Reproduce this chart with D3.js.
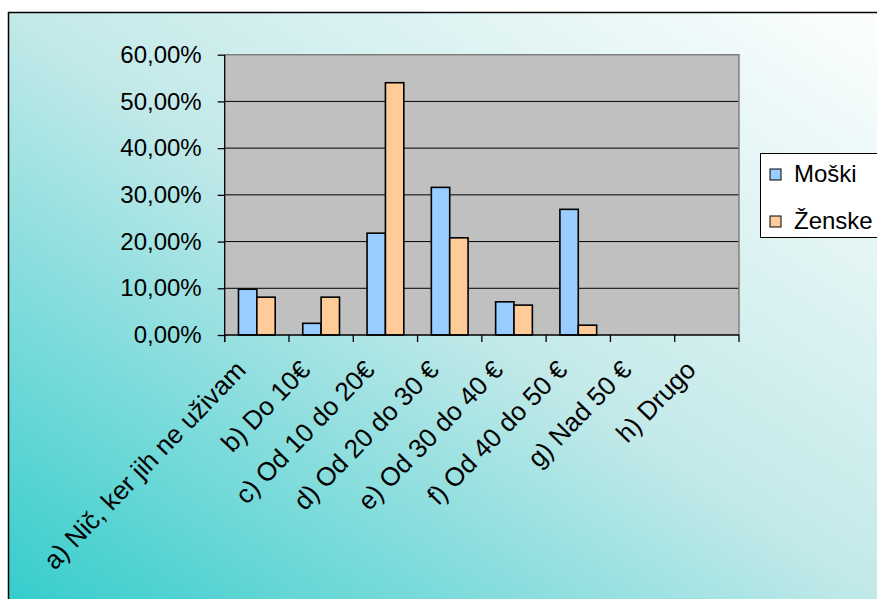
<!DOCTYPE html>
<html>
<head>
<meta charset="utf-8">
<script src="https://cdn.jsdelivr.net/npm/d3@7"></script>
<style>
  body { margin: 0; background: #fff; }
  text { font-family: "Liberation Sans", Arial, sans-serif; fill: #000; }
</style>
</head>
<body>
<div id="chart"></div>
<script>
// Data
var categories = ["a) Nič, ker jih ne uživam", "b) Do 10€", "c) Od 10 do 20€", "d) Od 20 do 30 €",
  "e) Od 30 do 40 €", "f) Od 40 do 50 €", "g) Nad 50 €", "h) Drugo"];
var seriesNames = ["Moški", "Ženske"];
var moski = [9.8, 2.5, 21.8, 31.6, 7.1, 26.9, 0, 0];
var zenske = [8.1, 8.1, 54.0, 20.8, 6.4, 2.1, 0, 0];
var yTicks = [0, 10, 20, 30, 40, 50, 60];
var colors = ["#99CCFF", "#FFCC99"];

var svgWidth = 877;
var svgHeight = 599;
var plot = { left: 224.7, top: 54.7, right: 739, bottom: 335 };

var svg = d3.select("#chart")
  .append("svg")
  .attr("width", svgWidth)
  .attr("height", svgHeight);

// background gradient (bottom-left teal -> top-right white)
var grad = svg.append("defs").append("linearGradient")
  .attr("id", "bg")
  .attr("x1", 0).attr("y1", 1)
  .attr("x2", 1).attr("y2", 0);
grad.append("stop").attr("offset", 0).attr("stop-color", "#33CCCC");
grad.append("stop").attr("offset", 0.5).attr("stop-color", "#C3E9E9");
grad.append("stop").attr("offset", 1).attr("stop-color", "#FFFFFF");

svg.append("rect")
  .attr("x", 8.5).attr("y", 12.5)
  .attr("width", 900).attr("height", 600)
  .attr("fill", "url(#bg)")
  .attr("stroke", "#000")
  .attr("stroke-width", 1.5);

// scales
var x = d3.scaleBand()
  .domain(categories)
  .range([plot.left, plot.right]);

var barW = x.bandwidth() / 3.5;
var xInner = d3.scaleBand()
  .domain(seriesNames)
  .range([barW * 0.75, barW * 2.75]);

var y = d3.scaleLinear()
  .domain([0, 60])
  .range([plot.bottom, plot.top]);

// plot area
svg.append("rect")
  .attr("x", plot.left).attr("y", plot.top)
  .attr("width", plot.right - plot.left)
  .attr("height", plot.bottom - plot.top)
  .attr("fill", "#C0C0C0");

// gridlines
svg.append("g")
  .selectAll("line")
  .data(yTicks.filter(d => d > 0 && d < 60))
  .enter()
  .append("line")
  .attr("x1", plot.left).attr("x2", plot.right)
  .attr("y1", d => y(d)).attr("y2", d => y(d))
  .attr("stroke", "#000")
  .attr("stroke-width", 1);

// plot border top and right
svg.append("path")
  .attr("d", `M${plot.left},${plot.top}H${plot.right}V${plot.bottom}`)
  .attr("fill", "none")
  .attr("stroke", "#808080")
  .attr("stroke-width", 1.5);

// bars
var rows = categories.map((c, i) => ({ cat: c, vals: [moski[i], zenske[i]] }));
var groups = svg.append("g")
  .selectAll("g")
  .data(rows)
  .enter()
  .append("g")
  .attr("transform", d => `translate(${x(d.cat)},0)`);

groups.selectAll("rect")
  .data(d => d.vals.map((v, j) => ({ name: seriesNames[j], v: v, j: j })).filter(e => e.v > 0))
  .enter()
  .append("rect")
  .attr("x", d => xInner(d.name))
  .attr("y", d => y(d.v))
  .attr("width", xInner.bandwidth())
  .attr("height", d => plot.bottom - y(d.v))
  .attr("fill", d => colors[d.j])
  .attr("stroke", "#000")
  .attr("stroke-width", 1.6);

// y axis
var leftAxis = d3.axisLeft(y)
  .tickValues(yTicks)
  .tickSize(7)
  .tickPadding(16)
  .tickFormat(d => d3.format(".2f")(d).replace(".", ",") + "%");

var yAxisG = svg.append("g")
  .attr("transform", `translate(${plot.left},0)`)
  .call(leftAxis);
yAxisG.select(".domain").attr("d", `M0,${plot.top}V${plot.bottom + 7}`).attr("stroke-width", 1.3);
yAxisG.selectAll(".tick line").attr("stroke-width", 1.3);
yAxisG.selectAll("text")
  .attr("font-size", "24px")
  .attr("font-family", "Liberation Sans, Arial, sans-serif");

// x axis (ticks at category boundaries)
var bounds = categories.map(c => x(c)).concat([plot.right]);
svg.append("line")
  .attr("x1", plot.left).attr("x2", plot.right)
  .attr("y1", plot.bottom).attr("y2", plot.bottom)
  .attr("stroke", "#000").attr("stroke-width", 1.3);
svg.append("g")
  .selectAll("line")
  .data(bounds)
  .enter()
  .append("line")
  .attr("x1", d => d).attr("x2", d => d)
  .attr("y1", plot.bottom).attr("y2", plot.bottom + 7)
  .attr("stroke", "#000").attr("stroke-width", 1.3);

// rotated category labels
svg.append("g")
  .selectAll("text")
  .data(categories)
  .enter()
  .append("text")
  .attr("transform", d => `translate(${x(d) + x.bandwidth() / 2 - 16},${plot.bottom + 30}) rotate(-46)`)
  .attr("text-anchor", "end")
  .attr("dy", "0.35em")
  .attr("font-size", "26px")
  .text(d => d);

// legend
var legend = svg.append("g");
legend.append("rect")
  .attr("x", 760.5).attr("y", 153.5)
  .attr("width", 200).attr("height", 84)
  .attr("fill", "#fff")
  .attr("stroke", "#000")
  .attr("stroke-width", 1);

var items = legend.selectAll("g")
  .data(seriesNames)
  .enter()
  .append("g")
  .attr("transform", (d, i) => `translate(770,${174 + i * 47})`);
items.append("rect")
  .attr("x", 0).attr("y", -5)
  .attr("width", 11).attr("height", 11)
  .attr("fill", (d, i) => colors[i])
  .attr("stroke", "#000")
  .attr("stroke-width", 1);
items.append("text")
  .attr("x", 24)
  .attr("dy", "0.35em")
  .attr("font-size", "24px")
  .text(d => d);
</script>
</body>
</html>
